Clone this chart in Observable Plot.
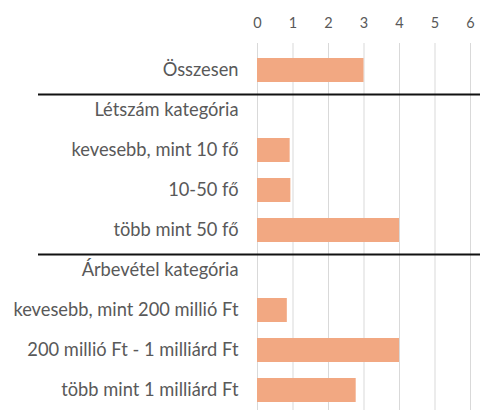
<!DOCTYPE html>
<html>
<head>
<meta charset="utf-8">
<script src="https://cdn.jsdelivr.net/npm/d3@7"></script>
<script src="https://cdn.jsdelivr.net/npm/@observablehq/plot@0.6"></script>
<style>
  html, body { margin: 0; padding: 0; background: #fff; }
  #chart svg { display: block; }
</style>
</head>
<body>
<div id="chart"></div>
<script>
const categories = [
  "Összesen",
  "Létszám kategória",
  "kevesebb, mint 10 fő",
  "10-50 fő",
  "több mint 50 fő",
  "Árbevétel kategória",
  "kevesebb, mint 200 millió Ft",
  "200 millió Ft - 1 milliárd Ft",
  "több mint 1 milliárd Ft"
];
const values = [3.0, null, 0.92, 0.94, 4.0, null, 0.84, 4.0, 2.78];
const headers = ["Létszám kategória", "Árbevétel kategória"];
const xTicks = [0, 1, 2, 3, 4, 5, 6];

const data = categories.map((c, i) => ({category: c, value: values[i]})).filter(d => d.value != null);

const chart = Plot.plot({
  width: 480,
  height: 410,
  marginLeft: 257,
  marginRight: 10,
  marginTop: 50,
  marginBottom: 0,
  style: {fontFamily: "Lato, sans-serif", color: "#595959", background: "#fff"},
  x: {domain: [0, 6], ticks: xTicks, axis: null},
  y: {domain: categories, paddingInner: 0.41, paddingOuter: 0.1, axis: null},
  marks: [
    Plot.ruleX(xTicks, {x: d => d, stroke: "#d9d9d9", strokeWidth: 1, insetTop: -7}),
    Plot.axisX(xTicks, {anchor: "top", label: null, tickSize: 0, tickPadding: 23, fontSize: 14.5, fill: "#595959"}),
    Plot.axisY({anchor: "left", label: null, tickSize: 0, tickPadding: 19, fontSize: 18.3, fill: "#595959"}),
    Plot.barX(data, {x: "value", y: "category", fill: "#F2A882"}),
    Plot.ruleY(headers, {y: d => d, dy: -16, stroke: "#111", strokeWidth: 2, insetLeft: -219, insetRight: -10})
  ]
});
document.getElementById("chart").appendChild(chart);
</script>
</body>
</html>
